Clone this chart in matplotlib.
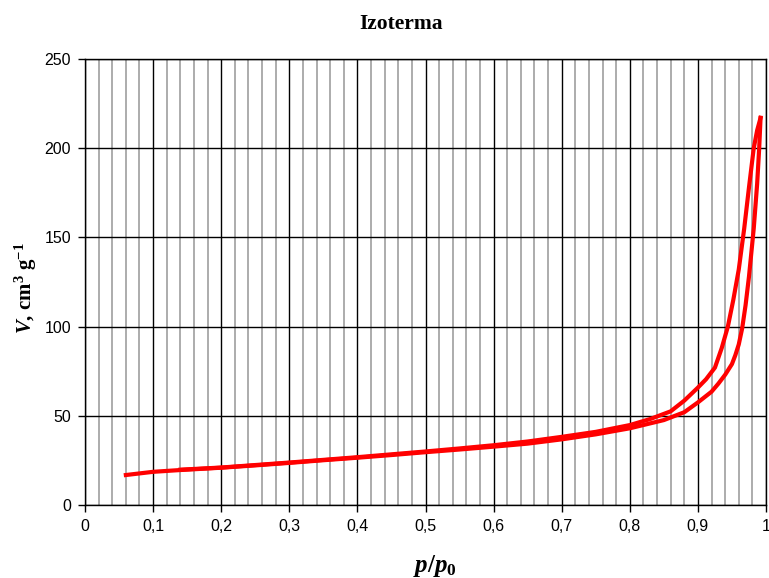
import numpy as np
import matplotlib
matplotlib.use("Agg")
import matplotlib.pyplot as plt
from matplotlib.ticker import MultipleLocator

# ============================================================
# DADOS
# ============================================================
# ramo de adsorção
ads_p = [0.06, 0.10, 0.14, 0.20, 0.25, 0.30, 0.35, 0.40, 0.45, 0.50, 0.55,
         0.60, 0.65, 0.70, 0.75, 0.80, 0.85, 0.88, 0.90, 0.92, 0.93, 0.94,
         0.95, 0.955, 0.96, 0.965, 0.97, 0.975, 0.982, 0.987, 0.99, 0.992]
ads_v = [16.8, 18.6, 19.6, 20.9, 22.2, 23.6, 25.1, 26.5, 28.0, 29.6, 31.1,
         32.7, 34.4, 36.8, 39.6, 43.0, 47.6, 52.0, 57.5, 63.5, 68.0, 73.0,
         79.0, 84.0, 90.0, 99.0, 112.0, 128.0, 155.0, 180.0, 200.0, 217.0]

# ramo de dessorção
des_p = [0.992, 0.987, 0.982, 0.975, 0.968, 0.960, 0.952, 0.944, 0.935,
         0.925, 0.912, 0.90, 0.88, 0.86, 0.83, 0.80, 0.75, 0.70, 0.65, 0.60,
         0.55, 0.50, 0.45, 0.40, 0.35, 0.30, 0.25, 0.20, 0.14]
des_v = [217.0, 210.0, 200.0, 178.0, 155.0, 132.0, 115.0, 100.0, 88.0,
         77.0, 70.5, 65.8, 58.5, 52.5, 48.2, 44.8, 41.0, 38.2, 35.6, 33.5,
         31.7, 30.0, 28.4, 26.8, 25.3, 23.8, 22.4, 21.0, 19.8]

xticks = [0, 0.1, 0.2, 0.3, 0.4, 0.5, 0.6, 0.7, 0.8, 0.9, 1.0]
xtick_labels = ["0", "0,1", "0,2", "0,3", "0,4", "0,5", "0,6", "0,7", "0,8", "0,9", "1"]
yticks = [0, 50, 100, 150, 200, 250]

# ============================================================
# FONTES
# ============================================================
plt.rcParams["font.family"] = ["Liberation Sans", "DejaVu Sans"]
plt.rcParams["mathtext.fontset"] = "custom"
plt.rcParams["mathtext.rm"] = "Liberation Serif:bold"
plt.rcParams["mathtext.bf"] = "Liberation Serif:bold"
plt.rcParams["mathtext.it"] = "Liberation Serif:italic:bold"

serif = ["Liberation Serif", "DejaVu Serif"]

# ============================================================
# FIGURA
# ============================================================
fig = plt.figure(figsize=(7.69, 5.78), dpi=100)
ax = fig.add_axes([85 / 769, 73 / 578, 681 / 769, 446 / 578])

ax.plot(ads_p, ads_v, color="#ff0000", lw=3.0, solid_joinstyle="round")
ax.plot(des_p, des_v, color="#ff0000", lw=3.0, solid_joinstyle="round")

ax.set_xlim(0, 1)
ax.set_ylim(0, 250)
ax.set_xticks(xticks)
ax.set_xticklabels(xtick_labels)
ax.set_yticks(yticks)
ax.xaxis.set_minor_locator(MultipleLocator(0.02))

ax.set_axisbelow(True)
ax.grid(which="minor", axis="x", color="#a6a6a6", lw=1.3)
ax.grid(which="major", axis="x", color="black", lw=1.0)
ax.grid(which="major", axis="y", color="black", lw=1.0)

ax.tick_params(which="major", direction="out", length=5, width=1,
               labelsize=11.5, colors="black", pad=5)
ax.tick_params(which="minor", length=0)
for s in ax.spines.values():
    s.set_color("black")
    s.set_linewidth(1.0)

# textos
fig.text(401 / 769, 1 - 24 / 578, "Izoterma", ha="center", va="center",
         family=serif, weight="bold", fontsize=15.5)
fig.text(26 / 769, 1 - 288 / 578, r"$\mathit{V}$, cm$^{3}$ g$^{-1}$",
         rotation=90, ha="center", va="center",
         family=serif, weight="bold", fontsize=15)
fig.text(435 / 769, 1 - 566 / 578, r"$p/p_{0}$", ha="center", va="center",
         family=serif, weight="bold", fontsize=18)

fig.savefig("out.png", dpi=100)
